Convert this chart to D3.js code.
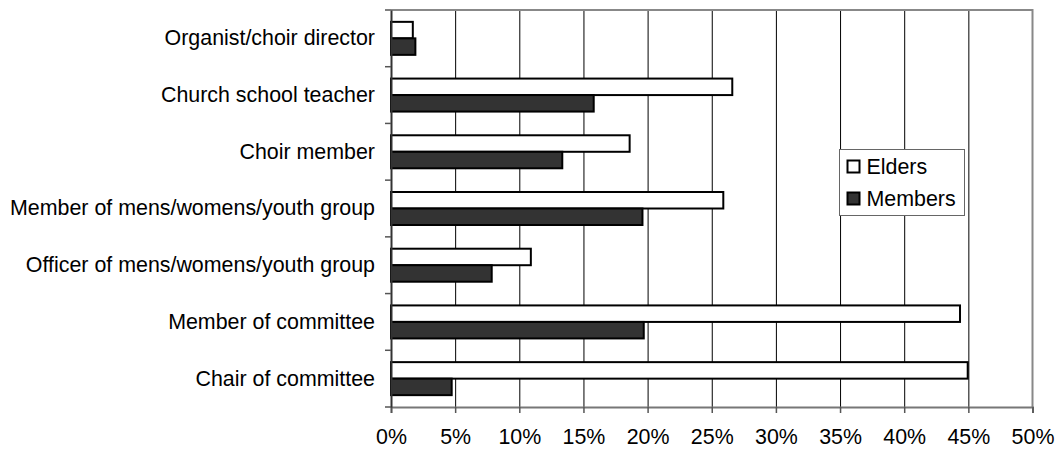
<!DOCTYPE html>
<html><head><meta charset="utf-8">
<script src="https://cdn.jsdelivr.net/npm/d3@7"></script>
<style>
html,body{margin:0;padding:0;background:#fff;}
text{font-family:"Liberation Sans",Arial,sans-serif;fill:#000;}
</style></head>
<body>
<svg id="chart" width="1055" height="449"></svg>
<script>
const categories = ["Organist/choir director","Church school teacher","Choir member","Member of mens/womens/youth group","Officer of mens/womens/youth group","Member of committee","Chair of committee"];
const seriesNames = ["Elders","Members"];
const elders = [1.7, 26.6, 18.6, 25.9, 10.9, 44.35, 44.95];
const members = [1.9, 15.8, 13.35, 19.6, 7.85, 19.7, 4.73];
const xTicks = [0,5,10,15,20,25,30,35,40,45,50];

const svg = d3.select("#chart");
const L = 391, R = 1032.5, T = 10, B = 407;
const fs = 21.4;
const colors = {Elders:"#ffffff", Members:"#333333"};

const x = d3.scaleLinear().domain([0,50]).range([L,R]);
const y = d3.scaleBand().domain(categories).range([T,B]).paddingInner(0.418).paddingOuter(0.209);
const y1 = d3.scaleBand().domain(seriesNames).range([0,y.bandwidth()]);

// gridlines
svg.append("g").selectAll("line").data(xTicks.filter(d=>d>0 && d<50)).join("line")
  .attr("x1",d=>x(d)+0.5).attr("x2",d=>x(d)+0.5).attr("y1",T).attr("y2",B)
  .attr("stroke","#000").attr("stroke-width",1);

// frame top/right
svg.append("line").attr("x1",L).attr("x2",R).attr("y1",T).attr("y2",T).attr("stroke","#888").attr("stroke-width",2);
svg.append("line").attr("x1",R).attr("x2",R).attr("y1",T-1).attr("y2",B).attr("stroke","#888").attr("stroke-width",2);

// bars
const rows = categories.map((c,i)=>({cat:c, vals:[{s:"Elders",v:elders[i]},{s:"Members",v:members[i]}]}));
const g = svg.append("g").selectAll("g").data(rows).join("g")
  .attr("transform",d=>`translate(0,${y(d.cat)})`);
g.selectAll("rect").data(d=>d.vals).join("rect")
  .attr("x",x(0)).attr("y",d=>y1(d.s))
  .attr("width",d=>x(d.v)-x(0)).attr("height",y1.bandwidth())
  .attr("fill",d=>colors[d.s]).attr("stroke","#000").attr("stroke-width",2);

// bottom axis
const xAxis = svg.append("g").attr("transform",`translate(0,${B})`)
  .call(d3.axisBottom(x).tickValues(xTicks).tickFormat(d=>d+"%").tickSize(6).tickPadding(16));
xAxis.select(".domain").attr("stroke","#777").attr("stroke-width",2);
xAxis.selectAll(".tick line").attr("stroke","#555").attr("stroke-width",1.5);
xAxis.selectAll("text").attr("font-size",fs).attr("font-family","Liberation Sans, Arial, sans-serif");

// left axis
const yAxis = svg.append("g").attr("transform",`translate(${L},0)`)
  .call(d3.axisLeft(y).tickSize(0).tickPadding(16));
yAxis.select(".domain").attr("stroke","#333").attr("stroke-width",2);
yAxis.selectAll("text").attr("font-size",fs).attr("font-family","Liberation Sans, Arial, sans-serif");
const bounds = d3.range(categories.length+1).map(i=>T + i*y.step());
svg.append("g").selectAll("line").data(bounds).join("line")
  .attr("x1",L-6).attr("x2",L).attr("y1",d=>d).attr("y2",d=>d)
  .attr("stroke","#555").attr("stroke-width",1.5);

// legend
const lg = svg.append("g").attr("transform","translate(839.5,149.5)");
lg.append("rect").attr("width",125).attr("height",66).attr("fill","#fff").attr("stroke","#666").attr("stroke-width",1);
seriesNames.forEach((s,i)=>{
  const row = lg.append("g").attr("transform",`translate(8,${11+i*32})`);
  row.append("rect").attr("width",12).attr("height",12).attr("fill",colors[s]).attr("stroke","#000").attr("stroke-width",2);
  row.append("text").attr("x",19).attr("y",6).attr("dy","0.35em").attr("font-size",fs).text(s);
});
</script>
</body></html>
